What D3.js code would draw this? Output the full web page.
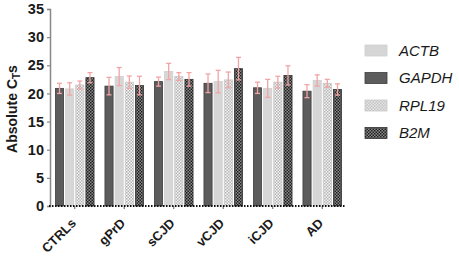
<!DOCTYPE html>
<html><head><meta charset="utf-8">
<script src="https://cdn.jsdelivr.net/npm/d3@7"></script>
<style>body{margin:0;background:#fff}svg{display:block;font-family:"Liberation Sans",Arial,sans-serif}</style>
</head><body>
<svg id="c" width="459" height="256"></svg>
<script>
const groups = ["CTRLs","gPrD","sCJD","vCJD","iCJD","AD"];
const barOrder = ["GAPDH","ACTB","RPL19","B2M"];
const legendOrder = ["ACTB","GAPDH","RPL19","B2M"];
const GAPDH = [20.9, 21.3, 22.1, 21.8, 21.0, 20.4];
const ACTB  = [20.8, 23.0, 23.9, 22.1, 20.9, 22.3];
const RPL19 = [21.5, 22.0, 23.0, 22.4, 22.0, 21.8];
const B2M   = [22.8, 21.4, 22.5, 24.4, 23.2, 20.7];
const GAPDH_err = [0.9, 1.55, 0.8, 1.65, 1.0, 1.15];
const ACTB_err  = [1.1, 1.6, 1.45, 2.0, 1.6, 1.0];
const RPL19_err = [0.7, 1.1, 0.7, 1.4, 1.05, 0.7];
const B2M_err   = [0.9, 1.65, 1.2, 2.0, 1.7, 1.0];
const yTicks = [0,5,10,15,20,25,30,35];

const values = {GAPDH, ACTB, RPL19, B2M};
const errs = {GAPDH: GAPDH_err, ACTB: ACTB_err, RPL19: RPL19_err, B2M: B2M_err};

const svg = d3.select("#c");
const defs = svg.append("defs");
function checker(id, a, b, s) {
  const p = defs.append("pattern").attr("id", id).attr("width", 2*s).attr("height", 2*s).attr("patternUnits", "userSpaceOnUse");
  p.append("rect").attr("width", 2*s).attr("height", 2*s).attr("fill", a);
  p.append("rect").attr("width", s).attr("height", s).attr("fill", b);
  p.append("rect").attr("x", s).attr("y", s).attr("width", s).attr("height", s).attr("fill", b);
}
checker("pR", "#f4f4f4", "#b4b4b4", 1.5);
checker("pB", "#8a8a8a", "#1e1e1e", 1.5);
const fills = {GAPDH: "#5c5c5c", ACTB: "#d6d6d6", RPL19: "url(#pR)", B2M: "url(#pB)"};
const strokes = {GAPDH: "#3e3e3e", ACTB: "#cfcfcf", RPL19: "#c8c8c8", B2M: "#333"};

const y = d3.scaleLinear().domain([0, 35]).range([206, 9]);
const x = d3.scaleBand().domain(groups).range([50, 347]).paddingInner(0.2).paddingOuter(0.1);
const xi = d3.scaleBand().domain(barOrder).range([0, x.bandwidth()]).paddingInner(0.1);

const data = [];
groups.forEach((g, i) => barOrder.forEach(s => data.push({g, s, v: values[s][i], e: errs[s][i]})));

svg.append("g").selectAll("rect").data(data).join("rect")
  .attr("x", d => x(d.g) + xi(d.s) + 0.5)
  .attr("y", d => y(d.v))
  .attr("width", xi.bandwidth() - 1)
  .attr("height", d => y(0) - y(d.v))
  .attr("fill", d => fills[d.s])
  .attr("stroke", d => strokes[d.s])
  .attr("stroke-width", 0.8);

const eg = svg.append("g").attr("stroke", "#f2a4a4").attr("stroke-width", 1.3).attr("fill", "none");
data.forEach(d => {
  const cx = x(d.g) + xi(d.s) + xi.bandwidth() / 2;
  eg.append("line").attr("x1", cx).attr("x2", cx).attr("y1", y(d.v + d.e)).attr("y2", y(d.v - d.e));
  eg.append("line").attr("x1", cx - 2.5).attr("x2", cx + 2.5).attr("y1", y(d.v + d.e)).attr("y2", y(d.v + d.e));
  eg.append("line").attr("x1", cx - 2.5).attr("x2", cx + 2.5).attr("y1", y(d.v - d.e)).attr("y2", y(d.v - d.e));
});

// y axis
const ya = svg.append("g").attr("transform", "translate(50,0)")
  .call(d3.axisLeft(y).tickValues(yTicks).tickSize(3).tickPadding(3));
ya.select(".domain").attr("stroke", "#888").attr("stroke-width", 1.5);
ya.selectAll(".tick line").attr("stroke", "#888").attr("stroke-width", 1.2);
ya.selectAll(".tick text").attr("font-size", 14.5).attr("font-weight", "bold").attr("fill", "#1a1a1a")
  .attr("font-family", "Liberation Sans, Arial, sans-serif");

// x axis
const xa = svg.append("g").attr("transform", "translate(0,206)")
  .call(d3.axisBottom(x).tickSize(3).tickFormat(""));
xa.select(".domain").remove();
xa.selectAll(".tick line").attr("stroke", "#777").attr("stroke-width", 1.2);
svg.append("line").attr("x1", 49).attr("x2", 345).attr("y1", 206).attr("y2", 206)
  .attr("stroke", "#111").attr("stroke-width", 2).attr("stroke-dasharray", "1.5,1.5");
svg.append("g").selectAll("text").data(groups).join("text")
  .attr("transform", d => `translate(${x(d) + x.bandwidth()/2 + 2},${224}) rotate(-45)`)
  .attr("text-anchor", "end")
  .attr("font-size", 13).attr("font-weight", "bold").attr("fill", "#1a1a1a")
  .text(d => d);

// y title
const yt = svg.append("text")
  .attr("transform", "translate(17,109) rotate(-90)")
  .attr("text-anchor", "middle")
  .attr("font-size", 14).attr("font-weight", "bold").attr("fill", "#1a1a1a");
yt.append("tspan").text("Absolute C");
yt.append("tspan").attr("font-size", 10).attr("dy", 3).text("T");
yt.append("tspan").attr("dy", -3).text("s");

// legend
const lg = svg.append("g").selectAll("g").data(legendOrder).join("g")
  .attr("transform", (d, i) => `translate(365,${50.5 + i * 27.5})`);
lg.append("rect").attr("x", 0).attr("y", -5.5).attr("width", 22).attr("height", 11)
  .attr("fill", d => fills[d]).attr("stroke", d => strokes[d]).attr("stroke-width", 0.8);
lg.append("text").attr("x", 34).attr("y", 0).attr("dy", "0.36em")
  .attr("font-size", 15).attr("font-style", "italic").attr("fill", "#1a1a1a").text(d => d);
</script>
</body></html>
